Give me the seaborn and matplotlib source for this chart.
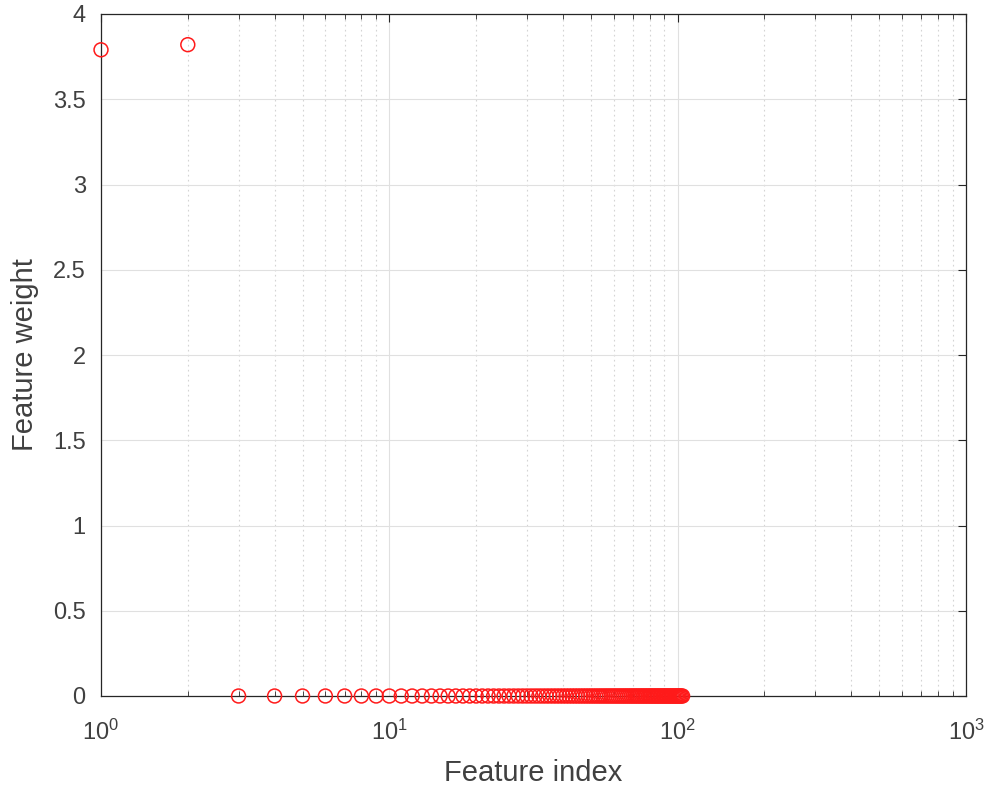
import numpy as np
import pandas as pd
import seaborn as sns
import matplotlib.pyplot as plt
from matplotlib.ticker import LogLocator, NullFormatter

# feature weights, ranked by feature index
feature_index = list(range(1, 105))
feature_weight = [3.79, 3.82] + [0.0] * 102

x_ticks = [1, 10, 100, 1000]
x_tick_labels = [r'$\mathregular{10^{0}}$', r'$\mathregular{10^{1}}$',
                 r'$\mathregular{10^{2}}$', r'$\mathregular{10^{3}}$']
y_ticks = [0, 0.5, 1, 1.5, 2, 2.5, 3, 3.5, 4]
y_tick_labels = ['0', '0.5', '1', '1.5', '2', '2.5', '3', '3.5', '4']

df = pd.DataFrame({'index': feature_index, 'weight': feature_weight})

sns.set_style('white')
plt.rcParams['font.family'] = ['Liberation Sans', 'DejaVu Sans']
plt.rcParams['mathtext.fontset'] = 'custom'
plt.rcParams['mathtext.rm'] = 'Liberation Sans'

fig = plt.figure(figsize=(9.91, 7.90), dpi=100)
ax = fig.add_axes([101 / 991, 1 - 696 / 790, 865 / 991, 682 / 790])

sns.scatterplot(data=df, x='index', y='weight', ax=ax,
                marker='o', s=100, facecolors='none', edgecolor='#ff1a1a',
                linewidth=1.1, zorder=3, clip_on=False)

ax.set_xscale('log')
ax.set_xlim(1, 1000)
ax.set_ylim(0, 4)
ax.set_xticks(x_ticks)
ax.set_xticklabels(x_tick_labels)
ax.set_yticks(y_ticks)
ax.set_yticklabels(y_tick_labels)
ax.xaxis.set_minor_locator(LogLocator(base=10, subs=np.arange(2, 10)))
ax.xaxis.set_minor_formatter(NullFormatter())

# matlab-ish grid
ax.grid(True, which='major', color='#e0e0e0', linewidth=0.8, linestyle='-')
ax.grid(True, which='minor', axis='x', color='#d4d4d4', linewidth=0.8, linestyle=(0, (1.5, 3)))
ax.set_axisbelow(True)

ax.tick_params(axis='both', which='major', direction='in', length=6, width=0.8,
               top=True, right=True, colors='#262626', labelsize=17, labelcolor='#404040')
ax.tick_params(axis='x', which='major', pad=17)
ax.tick_params(axis='y', which='major', pad=11)
ax.tick_params(axis='x', which='minor', direction='in', length=3.5, width=0.6,
               top=True, bottom=True, colors='#262626')
for spine in ax.spines.values():
    spine.set_color('#262626')
    spine.set_linewidth(0.9)

ax.set_xlabel('Feature index', fontsize=21, color='#404040', labelpad=10)
ax.set_ylabel('Feature weight', fontsize=21, color='#404040', labelpad=10)

fig.savefig('out.png', dpi=100, facecolor='white')
plt.close(fig)
